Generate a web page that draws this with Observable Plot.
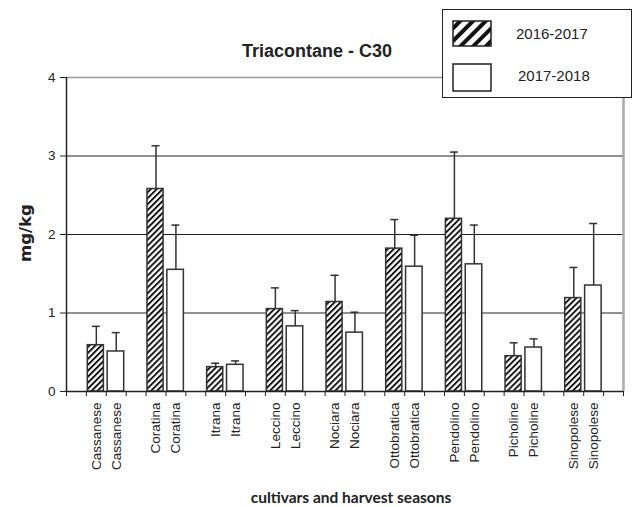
<!DOCTYPE html>
<html>
<head>
<meta charset="utf-8">
<script src="https://cdn.jsdelivr.net/npm/d3@7"></script>
<script src="https://cdn.jsdelivr.net/npm/@observablehq/plot@0.6"></script>
<style>
  html, body { margin: 0; padding: 0; background: #fff; }
  #wrap { position: relative; width: 633px; height: 507px; overflow: hidden; background: #fff; font-family: "Liberation Sans", Arial, sans-serif; }
  #chart { position: absolute; left: 0; top: 0; }
  #chart svg text { font-size: 13.5px !important; font-family: "Liberation Sans", Arial, sans-serif !important; fill: #222; }
  .abs { position: absolute; white-space: nowrap; color: #222; }
  #title { left: 242px; top: 51px; transform: translateY(-50%); font-size: 18px; font-weight: bold; }
  #ylab { left: 25px; top: 233px; transform: translate(-50%, -50%) rotate(-90deg); font-family: "DejaVu Sans", Verdana, sans-serif; font-weight: bold; font-size: 16.5px; }
  #xlab { left: 351px; top: 497px; transform: translate(-50%, -50%); font-family: Lato, "Open Sans", sans-serif; font-weight: bold; font-size: 15.5px; }
  #legend { left: 442px; top: 9px; width: 188px; height: 87px; border: 1px solid #222; background: #fff; }
  .lt { position: absolute; font-size: 15px; transform: translateY(-50%); color: #222; }
</style>
</head>
<body>
<div id="wrap">
  <div id="chart"></div>
  <div id="title" class="abs">Triacontane - C30</div>
  <div id="ylab" class="abs">mg/kg</div>
  <div id="xlab" class="abs">cultivars and harvest seasons</div>
  <div id="legend" class="abs">
    <svg width="188" height="87" style="position:absolute;left:0;top:0">
      <defs>
        <pattern id="hatchLeg" patternUnits="userSpaceOnUse" width="9" height="9" patternTransform="rotate(45)">
          <rect width="9" height="9" fill="#fff"></rect>
          <rect x="0" y="0" width="4" height="9" fill="#111"></rect>
        </pattern>
      </defs>
      <rect x="10" y="11" width="38" height="25" fill="url(#hatchLeg)" stroke="#222" stroke-width="1.5"></rect>
      <rect x="10" y="54" width="38" height="27" fill="#fff" stroke="#222" stroke-width="1.5"></rect>
    </svg>
    <div class="lt" id="leg0" style="left:73px;top:23px"></div>
    <div class="lt" id="leg1" style="left:75px;top:65px"></div>
  </div>
</div>
<script>
// ---- data ----
const cultivars = ["Cassanese","Coratina","Itrana","Leccino","Nociara","Ottobratica","Pendolino","Picholine","Sinopolese"];
const seasons = ["2016-2017","2017-2018"];
const mean2016 = [0.59,2.58,0.31,1.05,1.14,1.82,2.20,0.45,1.19];
const err2016  = [0.24,0.55,0.05,0.27,0.34,0.37,0.85,0.17,0.39];
const mean2017 = [0.51,1.55,0.34,0.83,0.75,1.59,1.62,0.56,1.35];
const err2017  = [0.24,0.57,0.05,0.20,0.26,0.40,0.50,0.11,0.79];
const yTicks = [0,1,2,3,4];

document.getElementById("leg0").textContent = seasons[0];
document.getElementById("leg1").textContent = seasons[1];

const nSlots = 3 * cultivars.length + 1;
const rows = [];
cultivars.forEach((c, i) => {
  rows.push({cultivar: c, season: seasons[0], s: 0, slot: 3*i+1, value: mean2016[i], err: err2016[i]});
  rows.push({cultivar: c, season: seasons[1], s: 1, slot: 3*i+2, value: mean2017[i], err: err2017[i]});
});
const hatched = rows.filter(d => d.s === 0);
const plain = rows.filter(d => d.s === 1);

const chart = Plot.plot({
  width: 633,
  height: 507,
  marginLeft: 66,
  marginRight: 10,
  marginTop: 77,
  marginBottom: 116,
  style: {fontFamily: "'Liberation Sans', Arial, sans-serif", fontSize: "13.5px", background: "transparent", color: "#222"},
  x: {type: "linear", domain: [0, nSlots]},
  y: {domain: [yTicks[0], yTicks[yTicks.length-1]]},
  marks: [
    Plot.ruleY(yTicks.slice(1, -1), {stroke: "#222", strokeWidth: 1.2}),
    Plot.ruleY([yTicks[yTicks.length-1]], {stroke: "#999", strokeWidth: 1.5}),
    Plot.ruleX([nSlots], {y1: yTicks[0], y2: yTicks[yTicks.length-1], stroke: "#aaa", strokeWidth: 2.5}),
    Plot.ruleX(rows, {x: d => d.slot + 0.5, y1: "value", y2: d => d.value + d.err, stroke: "#333", strokeWidth: 1.5}),
    Plot.ruleY(rows, {y: d => d.value + d.err, x1: d => d.slot + 0.3, x2: d => d.slot + 0.7, stroke: "#333", strokeWidth: 1.5}),
    Plot.rectY(hatched, {x1: d => d.slot + 0.07, x2: d => d.slot + 0.88, y: "value", fill: "url(#hatchBar)", stroke: "#333", strokeWidth: 1.5}),
    Plot.rectY(plain, {x1: d => d.slot + 0.07, x2: d => d.slot + 0.9, y: "value", fill: "#fff", stroke: "#333", strokeWidth: 1.5}),
    Plot.ruleY([0], {stroke: "#222", strokeWidth: 1.5}),
    Plot.ruleX([0], {stroke: "#222", strokeWidth: 1.5}),
    Plot.axisY({ticks: yTicks, tickSize: 6, tickPadding: 5, tickFormat: d3.format("d"), label: null, stroke: "#222"}),
    Plot.axisX({ticks: d3.range(0, nSlots + 1), tickSize: 5, tickFormat: () => "", label: null, stroke: "#222"}),
    Plot.axisX({ticks: rows.map(d => d.slot + 0.5), tickSize: 0, tickPadding: 11, tickRotate: -90,
      tickFormat: v => cultivars[Math.floor((v - 1) / 3)], label: null})
  ]
});

const defs = document.createElementNS("http://www.w3.org/2000/svg", "defs");
defs.innerHTML = `<pattern id="hatchBar" patternUnits="userSpaceOnUse" width="4.2" height="4.2" patternTransform="rotate(45)">
  <rect width="4.2" height="4.2" fill="#fff"></rect>
  <rect x="0" y="0" width="1.9" height="4.2" fill="#111"></rect>
</pattern>`;
chart.insertBefore(defs, chart.firstChild);
document.getElementById("chart").appendChild(chart);
</script>
</body>
</html>
